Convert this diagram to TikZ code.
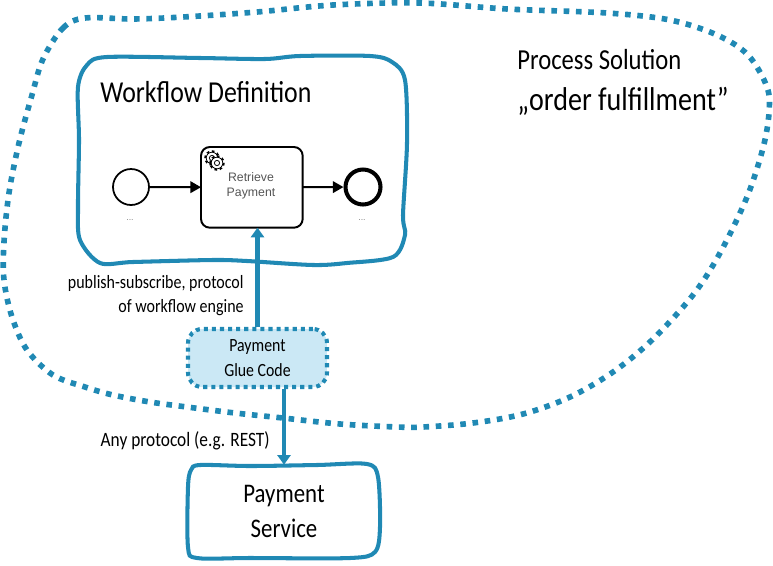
\documentclass[tikz,border=0pt]{standalone}
\usepackage{fontspec}
\setmainfont[FakeStretch=0.85]{Carlito}
\newfontfamily\bpmnfont{Liberation Sans}
\usetikzlibrary{arrows.meta}
\definecolor{cblue}{HTML}{2089B4}
\definecolor{cglue}{HTML}{CBE8F5}
\definecolor{cgrey}{HTML}{555555}
\tikzset{
  wobble/.style={draw=cblue, line width=2.3pt},
  flow/.style={draw=cblue, line width=2.3pt, -{Triangle[length=5.5pt,width=7.5pt]}},
  seqflow/.style={draw=black, line width=1.2pt, -{Triangle[length=6pt,width=6.5pt]}},
  hand/.style={inner sep=0pt, font=\fontsize{16.5}{16.5}\selectfont, align=center},
  bpmn/.style={inner sep=0pt, text=cgrey, font=\bpmnfont\fontsize{7}{8.6}\selectfont, align=center},
  dots/.style={inner sep=0pt, text=gray, font=\bpmnfont\fontsize{5}{5}\selectfont},
  anchorbox/.style={inner sep=0pt, anchor=north west}
}
\begin{document}
\begin{tikzpicture}[x=0.02cm,y=-0.02cm]
\useasboundingbox (0,0) rectangle (773,565);
\draw[draw=cblue, line width=3.2pt, dash pattern=on 3.2pt off 3.8pt] plot[smooth cycle, tension=0.55] coordinates {
  (43,59) (63,28) (85,18) (133,19) (183,17) (257,12) (333,5) (420,3) (507,9) (607,13) (670,20)
  (717,35) (748,55) (767,87) (769,113) (763,148) (747,197) (720,253) (693,295) (652,340) (613,372)
  (570,397) (523,414) (473,423) (423,427) (397,427) (340,424) (283,418) (235,413) (187,407) (150,402)
  (113,395) (85,387) (53,375) (27,350) (12,317) (4,280) (4,242) (9,193) (19,143) (32,95)};
\draw[wobble] plot[smooth cycle, tension=0.5] coordinates {
  (107,57) (200,58) (265,59) (300,56) (370,56) (392,62) (405,80) (407,143) (403,215) (405,235)
  (393,257) (347,263) (313,265) (247,261) (213,260) (133,262) (100,263) (80,240) (78,207) (79,140)
  (78,87) (87,65)};
\draw[wobble] plot[smooth cycle, tension=0.5] coordinates {
  (200,465) (250,466) (317,465) (367,464) (378,477) (380,527) (375,552) (350,558) (250,558)
  (197,558) (188,547) (188,487) (191,470)};
\node[anchorbox, minimum width=2.02cm, minimum height=1.6cm] (task) at (201,147) {};
\draw[black, line width=1.1pt, rounded corners=5pt] (task.north west) rectangle (task.south east);
\node[circle, draw=black, line width=1pt, minimum size=0.72cm, inner sep=0pt] (start) at (131,187) {};
\node[circle, draw=black, line width=2.3pt, minimum size=0.7cm, inner sep=0pt] (end) at (363,187) {};
\draw[seqflow] (start) -- (task);
\draw[seqflow] (task) -- (end);
\node[bpmn] (tasklabel) at (251,186) {Retrieve\\Payment};
\node[dots] (startdots) at (130,220) {...};
\node[dots] (enddots) at (362,220) {...};
\foreach \gx/\gy in {212/158,217/163}{
  \draw[black, line width=0.85pt, dash pattern=on 1.5pt off 1.6pt] (\gx,\gy) circle (7);
  \draw[black, line width=0.45pt, fill=white] (\gx,\gy) circle (5.8);
  \draw[black, line width=0.45pt] (\gx,\gy) circle (2.6);
}
\node[rounded corners=8pt, draw=cblue, fill=cglue, line width=2.3pt, dash pattern=on 2.3pt off 2.3pt,
  minimum width=2.78cm, minimum height=1.16cm, hand, font=\fontsize{10.6}{14.6}\selectfont] (glue) at (257.5,358) {Payment\\Glue Code};
\node[hand, minimum width=3.82cm, minimum height=1.86cm, font=\fontsize{15.3}{20}\selectfont] (service) at (284,511.5) {Payment\\Service};
\draw[flow] (glue.north) -- (glue.north |- task.south);
\draw[flow] (service.north |- glue.south) -- (service.north);
\node[hand, anchor=west, font=\fontsize{17.3}{17.3}\selectfont] (wflabel) at (100,92) {Workflow Definition};
\node[hand, anchor=west] (pslabel) at (517,60) {Process Solution};
\node[hand, anchor=west, font=\fontsize{18.8}{18.8}\selectfont] (orderlabel) at (517,101) {„order fulfillment”};
\node[hand, anchor=east, align=right, font=\fontsize{10.7}{13.6}\selectfont] (pubsub) at (244,296) {publish-subscribe, protocol\\of workflow engine};
\node[hand, anchor=east, font=\fontsize{11.6}{13.6}\selectfont] (anyproto) at (270,441) {Any protocol (e.g. REST)};
\end{tikzpicture}
\end{document}
